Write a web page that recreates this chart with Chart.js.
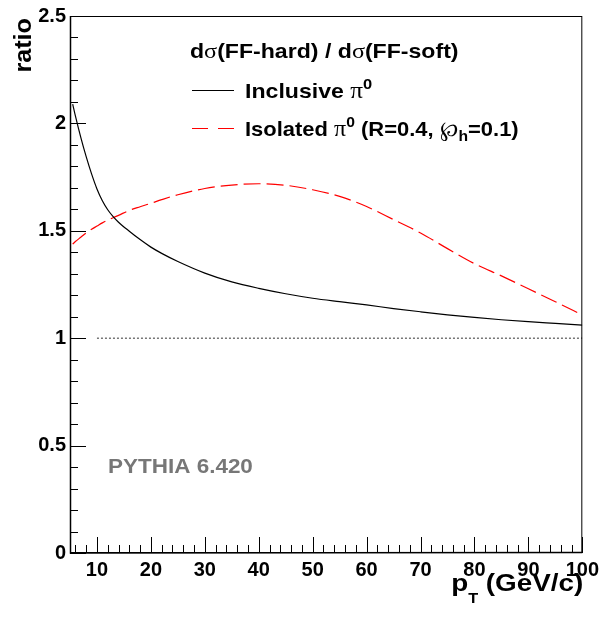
<!DOCTYPE html>
<html>
<head>
<meta charset="utf-8">
<script src="https://cdn.jsdelivr.net/npm/chart.js@4.4.1/dist/chart.umd.min.js"></script>
<style>
  html, body { margin: 0; padding: 0; background: #fff; }
  #wrap { width: 604px; height: 618px; position: relative; }
</style>
</head>
<body>
<div id="wrap"><canvas id="myChart" width="604" height="618"></canvas></div>
<script>
// pT values (GeV/c)
const ptValues = [5.5, 6, 7, 8, 9, 10, 11, 12, 13, 14, 16, 18, 20, 22, 25, 30, 35, 40, 45, 50, 55, 60, 65, 70, 75, 80, 85, 90, 95, 100];
// inclusive pi0 ratio
const inclusiveRatio = [2.09, 2.035, 1.935, 1.845, 1.765, 1.695, 1.64, 1.598, 1.566, 1.54, 1.498, 1.459, 1.424, 1.395, 1.357, 1.303, 1.262, 1.232, 1.207, 1.186, 1.17, 1.155, 1.138, 1.123, 1.109, 1.097, 1.086, 1.077, 1.069, 1.061];
// isolated pi0 ratio
const isolatedRatio = [1.438, 1.45, 1.47, 1.49, 1.507, 1.522, 1.537, 1.55, 1.561, 1.572, 1.595, 1.612, 1.628, 1.645, 1.668, 1.697, 1.713, 1.719, 1.712, 1.691, 1.66, 1.613, 1.552, 1.49, 1.417, 1.347, 1.29, 1.23, 1.17, 1.108];
// reference line at ratio = 1
const refX = [10, 100];
const refY = [1, 1];

const xMajorTicks = [10, 20, 30, 40, 50, 60, 70, 80, 90, 100];
const xMinorTicks = [6, 8, 12, 14, 16, 18, 22, 24, 26, 28, 32, 34, 36, 38, 42, 44, 46, 48, 52, 54, 56, 58, 62, 64, 66, 68, 72, 74, 76, 78, 82, 84, 86, 88, 92, 94, 96, 98];
const yMajorTicks = [0, 0.5, 1, 1.5, 2, 2.5];
const yMinorTicks = [0.1, 0.2, 0.3, 0.4, 0.6, 0.7, 0.8, 0.9, 1.1, 1.2, 1.3, 1.4, 1.6, 1.7, 1.8, 1.9, 2.1, 2.2, 2.3, 2.4];

const SANS = "'Liberation Sans', Arial, Helvetica, sans-serif";
const SERIF = "'Liberation Serif', 'DejaVu Serif', serif";

function pts(xs, ys) {
  return xs.map((x, i) => ({ x: x, y: ys[i] }));
}

// draw a run of text pieces (font / vertical shift per piece), stretched by sx
function drawRun(ctx, x, y, pieces, color, sx) {
  sx = sx || 1;
  ctx.save();
  ctx.translate(x, y);
  ctx.scale(sx, 1);
  ctx.fillStyle = color;
  ctx.textBaseline = "alphabetic";
  ctx.textAlign = "left";
  let cx = 0;
  for (const p of pieces) {
    ctx.font = p.font;
    ctx.fillText(p.t, cx, p.dy || 0);
    cx += ctx.measureText(p.t).width;
  }
  ctx.restore();
}
function runWidth(ctx, pieces, sx) {
  let w = 0;
  for (const p of pieces) {
    ctx.font = p.font;
    w += ctx.measureText(p.t).width;
  }
  return w * (sx || 1);
}

const rootStyle = {
  id: "rootStyle",
  afterDatasetsDraw(chart) {
    const ctx = chart.ctx;
    const a = chart.chartArea;
    const xs = chart.scales.x;
    const ys = chart.scales.y;
    ctx.save();
    // frame
    ctx.strokeStyle = "#000";
    ctx.lineWidth = 1;
    ctx.strokeRect(a.left + 0.5, a.top + 0.5, a.right - a.left - 1, a.bottom - a.top - 1);
    ctx.lineWidth = 1.5;
    ctx.beginPath();
    ctx.moveTo(a.left + 0.5, a.top);
    ctx.lineTo(a.left + 0.5, a.bottom);
    ctx.lineTo(a.right, a.bottom - 0.5);
    ctx.stroke();
    // inward ticks
    ctx.lineWidth = 1;
    ctx.beginPath();
    for (const v of xMajorTicks) {
      const px = Math.round(xs.getPixelForValue(v)) + 0.5;
      ctx.moveTo(px, a.bottom);
      ctx.lineTo(px, a.bottom - 16);
    }
    for (const v of xMinorTicks) {
      const px = Math.round(xs.getPixelForValue(v)) + 0.5;
      ctx.moveTo(px, a.bottom);
      ctx.lineTo(px, a.bottom - 8);
    }
    for (const v of yMajorTicks) {
      const py = Math.round(ys.getPixelForValue(v)) + 0.5;
      ctx.moveTo(a.left, py);
      ctx.lineTo(a.left + 16, py);
    }
    for (const v of yMinorTicks) {
      const py = Math.round(ys.getPixelForValue(v)) + 0.5;
      ctx.moveTo(a.left, py);
      ctx.lineTo(a.left + 8, py);
    }
    ctx.stroke();

    // legend
    drawRun(ctx, 190, 58, [
      { t: "d", font: "bold 21px " + SANS },
      { t: "σ", font: "22px " + SERIF },
      { t: "(FF-hard) / d", font: "bold 21px " + SANS },
      { t: "σ", font: "22px " + SERIF },
      { t: "(FF-soft)", font: "bold 21px " + SANS }
    ], "#000", 1.1);

    ctx.strokeStyle = "#000";
    ctx.lineWidth = 1;
    ctx.beginPath();
    ctx.moveTo(192, 90.5);
    ctx.lineTo(234, 90.5);
    ctx.stroke();
    drawRun(ctx, 245, 98, [
      { t: "Inclusive ", font: "bold 21px " + SANS },
      { t: "π", font: "23px " + SERIF },
      { t: "0", font: "bold 15px " + SANS, dy: -9 }
    ], "#000", 1.1);

    ctx.strokeStyle = "#ff0000";
    ctx.setLineDash([16, 10]);
    ctx.beginPath();
    ctx.moveTo(192, 128.5);
    ctx.lineTo(234, 128.5);
    ctx.stroke();
    ctx.setLineDash([]);
    drawRun(ctx, 245, 136, [
      { t: "Isolated ", font: "bold 21px " + SANS },
      { t: "π", font: "23px " + SERIF },
      { t: "0", font: "bold 15px " + SANS, dy: -9 },
      { t: " (R=0.4, ", font: "bold 21px " + SANS },
      { t: "℘", font: "21px " + SERIF },
      { t: "h", font: "bold 15px " + SANS, dy: 5 },
      { t: "=0.1)", font: "bold 21px " + SANS }
    ], "#000", 1.045);

    // generator label
    drawRun(ctx, 108, 473, [{ t: "PYTHIA 6.420", font: "bold 21px " + SANS }], "#777777", 1.07);

    // x title, right aligned to frame
    const xt = [
      { t: "p", font: "bold 24px " + SANS },
      { t: "T", font: "bold 14px " + SANS, dy: 12 },
      { t: " (GeV/c)", font: "bold 24px " + SANS }
    ];
    drawRun(ctx, a.right + 1 - runWidth(ctx, xt, 1.16), 591, xt, "#000", 1.16);

    // y title, rotated, at top end
    ctx.translate(31, 18);
    ctx.rotate(-Math.PI / 2);
    const yt = [{ t: "ratio", font: "bold 24px " + SANS }];
    drawRun(ctx, -runWidth(ctx, yt, 1.05), 0, yt, "#000", 1.05);
    ctx.restore();
  }
};

const ctx = document.getElementById("myChart").getContext("2d");
const myChart = new Chart(ctx, {
  type: "line",
  data: {
    datasets: [
      {
        label: "Inclusive",
        data: pts(ptValues, inclusiveRatio),
        borderColor: "#000",
        borderWidth: 1.2,
        pointRadius: 0,
        cubicInterpolationMode: "monotone",
        fill: false
      },
      {
        label: "Isolated",
        data: pts(ptValues, isolatedRatio),
        borderColor: "#ff0000",
        borderWidth: 1.2,
        borderDash: [17, 6],
        pointRadius: 0,
        cubicInterpolationMode: "monotone",
        fill: false
      },
      {
        label: "ref",
        data: pts(refX, refY),
        borderColor: "#555",
        borderWidth: 1.2,
        borderDash: [2, 2],
        pointRadius: 0,
        fill: false
      }
    ]
  },
  options: {
    responsive: false,
    animation: false,
    events: [],
    layout: { padding: { left: 0, top: 14, right: 21, bottom: 0 } },
    plugins: { legend: { display: false }, tooltip: { enabled: false } },
    scales: {
      x: {
        type: "linear",
        min: 5,
        max: 100,
        afterBuildTicks: (s) => { s.ticks = xMajorTicks.map(v => ({ value: v })); },
        afterFit: (s) => { s.height = 65; },
        grid: { display: false, drawTicks: false },
        border: { display: false },
        ticks: {
          padding: 5,
          color: "#000",
          maxRotation: 0,
          font: { family: SANS, weight: "bold", size: 20 }
        }
      },
      y: {
        type: "linear",
        min: 0,
        max: 2.5,
        afterBuildTicks: (s) => { s.ticks = yMajorTicks.map(v => ({ value: v })); },
        afterFit: (s) => { s.width = 70; },
        grid: { display: false, drawTicks: false },
        border: { display: false },
        ticks: {
          padding: 4,
          color: "#000",
          font: { family: SANS, weight: "bold", size: 20 },
          callback: (v) => String(v)
        }
      }
    }
  },
  plugins: [rootStyle]
});
</script>
</body>
</html>
